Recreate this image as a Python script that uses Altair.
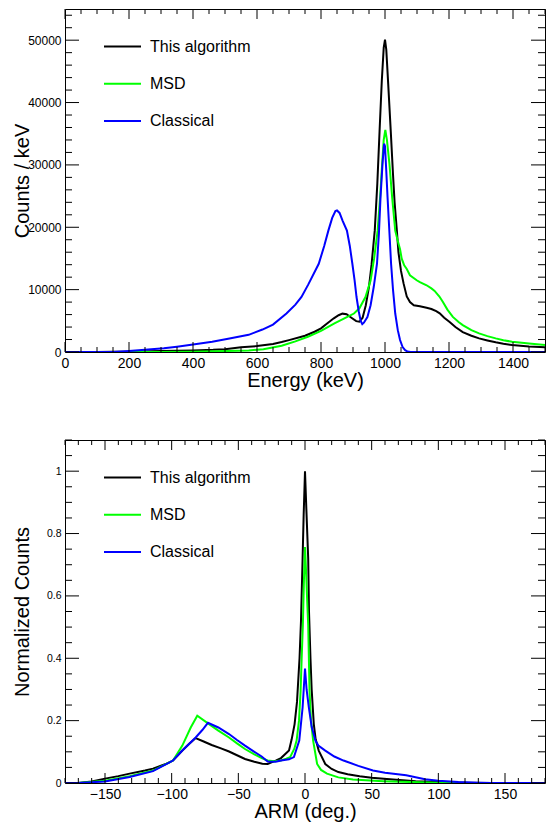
import altair as alt
import pandas as pd

# ---------------- Energy spectrum (top panel) ----------------
names = ["This algorithm", "MSD", "Classical"]
colors = ["#000000", "#00ff00", "#0000ff"]

e_alg_x = [0, 100, 150, 200, 300, 400, 463, 500, 550, 600, 650, 677, 700, 750, 780, 800, 820, 840, 855,
           867, 880, 895, 910, 920, 930, 940, 950, 958, 968, 976, 983, 990, 996, 1000, 1004, 1010, 1018,
           1025, 1030, 1037, 1042, 1050, 1058, 1068, 1078, 1090, 1109, 1130, 1145, 1160, 1171, 1185, 1202,
           1220, 1243, 1270, 1294, 1320, 1346, 1370, 1397, 1450, 1500]
e_alg_y = [0, 0, 30, 60, 150, 260, 350, 450, 750, 950, 1300, 1600, 1900, 2600, 3250, 3800, 4600, 5400, 5900,
           6150, 6050, 5500, 4950, 4850, 5500, 7500, 10500, 14000, 19500, 27000, 35400, 43500, 48800, 50100,
           48500, 43000, 35400, 28500, 24000, 19500, 16000, 13000, 11000, 8900, 8000, 7500, 7350, 7100, 6900,
           6550, 6200, 5500, 4800, 4000, 3200, 2600, 2180, 1850, 1550, 1320, 1120, 900, 750]

e_msd_x = [0, 300, 400, 500, 574, 620, 677, 720, 759, 800, 842, 870, 903, 920, 939, 955, 966, 977, 985, 991,
           996, 1001, 1006, 1014, 1022, 1032, 1040, 1047, 1052, 1060, 1068, 1078, 1099, 1109, 1130, 1145,
           1155, 1170, 1181, 1195, 1212, 1230, 1243, 1270, 1294, 1320, 1346, 1370, 1397, 1450, 1500]
e_msd_y = [0, 0, 40, 150, 250, 450, 1000, 1700, 2440, 3400, 4580, 5300, 6170, 7000, 8820, 11480, 15000,
           19460, 25000, 30100, 34000, 35600, 34000, 30100, 25000, 19460, 17800, 16500, 15000, 13900, 13300,
           12300, 11500, 11200, 10700, 10200, 9800, 8900, 8020, 6800, 5630, 4800, 4310, 3500, 2980, 2550,
           2180, 1900, 1640, 1350, 1120]

e_cla_x = [0, 150, 200, 250, 309, 350, 411, 460, 514, 574, 617, 650, 692, 720, 739, 760, 793, 810, 823, 835,
           845, 850, 858, 868, 881, 890, 898, 905, 911, 918, 924, 929, 934, 945, 955, 965, 975, 981, 986,
           992, 997, 1000, 1004, 1008, 1014, 1019, 1025, 1032, 1040, 1047, 1055, 1063, 1070, 1080, 1500]
e_cla_y = [0, 0, 150, 350, 590, 850, 1280, 1650, 2180, 2750, 3600, 4400, 6170, 7600, 8820, 10800, 14150,
           17000, 19460, 21500, 22600, 22700, 22300, 21000, 19460, 17000, 14150, 11500, 8820, 6500, 5000,
           4470, 4700, 5600, 7500, 10500, 14150, 19000, 24770, 30000, 33400, 33000, 29000, 24770, 19000,
           14150, 10000, 6170, 3500, 1910, 800, 300, 80, 0, 0]

# ---------------- ARM distribution (bottom panel) ----------------
a_alg_x = [-180, -170, -160, -150, -140, -131.5, -120, -114, -105, -99, -92, -87, -82, -76, -70, -63, -57,
           -51, -45, -38, -32, -28, -22, -18, -12, -10, -7.8, -6, -4.1, -3, -1.8, -1, 0, 1, 2.4, 3, 4.1, 5,
           6.6, 8, 10.3, 15.2, 20, 25, 32, 41, 50, 66, 83, 100, 120, 140, 180]
a_alg_y = [0, 0, 0.005, 0.014, 0.022, 0.030, 0.040, 0.046, 0.060, 0.072, 0.104, 0.125, 0.144, 0.133, 0.122,
           0.111, 0.101, 0.089, 0.077, 0.068, 0.0615, 0.061, 0.072, 0.080, 0.104, 0.14, 0.189, 0.26, 0.40,
           0.52, 0.72, 0.86, 1.0, 0.88, 0.72, 0.55, 0.40, 0.30, 0.189, 0.14, 0.104, 0.061, 0.045, 0.035,
           0.028, 0.022, 0.017, 0.011, 0.006, 0.003, 0.001, 0, 0]

a_msd_x = [-180, -170, -150, -131.5, -114, -99, -92, -85.7, -80.8, -72, -65, -57, -51, -45, -38, -32.5, -28,
           -23, -18, -14, -11.2, -8, -6.3, -4.5, -3.3, -2.5, -1.6, -0.8, 0, 0.8, 1.5, 2.4, 3.4, 4.5, 6.1,
           9.1, 12, 16.5, 25, 36, 58.6, 80, 100, 120, 180]
a_msd_y = [0, 0, 0.0075, 0.022, 0.040, 0.072, 0.12, 0.178, 0.2155, 0.189, 0.168, 0.146, 0.127, 0.109, 0.092,
           0.0796, 0.072, 0.070, 0.072, 0.078, 0.083, 0.11, 0.136, 0.20, 0.295, 0.40, 0.507, 0.65, 0.757,
           0.68, 0.60, 0.507, 0.295, 0.20, 0.136, 0.061, 0.042, 0.030, 0.018, 0.011, 0.006, 0.003, 0.001, 0, 0]

a_cla_x = [-180, -170, -150, -131.5, -114, -99, -92, -82, -77, -72.8, -65, -57, -51, -45, -38, -32.5, -28,
           -22, -18, -12, -8.3, -4.3, -1.8, 0, 1.2, 2.9, 5, 7.8, 10, 15.2, 22, 28.9, 40, 51, 60, 75.9, 90,
           100, 115, 130, 140, 180]
a_cla_y = [0, 0, 0.005, 0.019, 0.038, 0.072, 0.104, 0.146, 0.17, 0.193, 0.178, 0.157, 0.138, 0.12, 0.10,
           0.085, 0.069, 0.068, 0.072, 0.076, 0.083, 0.136, 0.242, 0.367, 0.30, 0.242, 0.18, 0.136, 0.12,
           0.104, 0.085, 0.072, 0.055, 0.040, 0.033, 0.0245, 0.012, 0.007, 0.003, 0.001, 0, 0]

# tick positions
top_x_major = list(range(0, 1401, 200))
top_x_minor = [v for v in range(0, 1501, 50) if v % 200 != 0]
top_y_major = list(range(0, 50001, 10000))
top_y_minor = [v for v in range(0, 55001, 2000) if v % 10000 != 0]
bot_x_major = list(range(-150, 151, 50))
bot_x_minor = [v for v in range(-180, 181, 10) if v % 50 != 0]
bot_y_major = [0, 0.2, 0.4, 0.6, 0.8, 1]
bot_y_minor = [round(i * 0.05, 2) for i in range(0, 23) if i % 4 != 0]

FONT = "Liberation Sans"
W, H = 480, 343


def long_df(xs, ys):
    rows = []
    for name, xv, yv in zip(names, xs, ys):
        for a, b in zip(xv, yv):
            rows.append({"x": a, "y": b, "series": name})
    return pd.DataFrame(rows)


def panel(df, xdom, ydom, xmaj, xmin, ymaj, ymin, xtitle, ytitle, ylabsize, yfmt, xfmt):
    xs = alt.Scale(domain=xdom, nice=False, zero=False)
    ys = alt.Scale(domain=ydom, nice=False, zero=False)
    xaxis = alt.Axis(values=xmaj, format=xfmt, labelFontSize=14, labelPadding=4, labelFlush=False,
                     title=xtitle, titleFontSize=20, titleY=34, titleBaseline="alphabetic")
    yaxis = alt.Axis(values=ymaj, format=yfmt, labelFontSize=ylabsize, labelPadding=4, labelFlush=False,
                     title=ytitle, titleFontSize=20, titleX=-37, titleBaseline="alphabetic")
    lines = alt.Chart(df).mark_line(strokeWidth=2, clip=True).encode(
        x=alt.X("x:Q", scale=xs, axis=xaxis, title=xtitle),
        y=alt.Y("y:Q", scale=ys, axis=yaxis, title=ytitle),
        color=alt.Color("series:N", sort=names,
                        scale=alt.Scale(domain=names, range=colors),
                        legend=alt.Legend(orient="none", legendX=38, legendY=18, title=None,
                                          symbolType="stroke", symbolSize=1369, symbolStrokeWidth=2,
                                          labelFontSize=16, labelFont=FONT, labelColor="black",
                                          labelOffset=8, rowPadding=9.2, padding=0, labelLimit=0)),
    )
    layers = [lines]
    for vals, L in ((xmaj, 10), (xmin, 5)):
        d = pd.DataFrame({"x": vals})
        layers.append(alt.Chart(d).mark_rule(color="black", strokeWidth=1).encode(
            x=alt.X("x:Q", scale=xs, title=xtitle), y=alt.value(H), y2=alt.value(H - L)))
        layers.append(alt.Chart(d).mark_rule(color="black", strokeWidth=1).encode(
            x=alt.X("x:Q", scale=xs, title=xtitle), y=alt.value(0), y2=alt.value(L)))
    for vals, L in ((ymaj, 14), (ymin, 7)):
        d = pd.DataFrame({"y": vals})
        layers.append(alt.Chart(d).mark_rule(color="black", strokeWidth=1).encode(
            y=alt.Y("y:Q", scale=ys, title=ytitle), x=alt.value(0), x2=alt.value(L)))
        layers.append(alt.Chart(d).mark_rule(color="black", strokeWidth=1).encode(
            y=alt.Y("y:Q", scale=ys, title=ytitle), x=alt.value(W), x2=alt.value(W - L)))
    return alt.layer(*layers).properties(width=W, height=H)


top = panel(long_df([e_alg_x, e_msd_x, e_cla_x], [e_alg_y, e_msd_y, e_cla_y]),
            [0, 1500], [0, 55000], top_x_major, top_x_minor, top_y_major, top_y_minor,
            "Energy (keV)", "Counts / keV", 12, "d", "d")
bottom = panel(long_df([a_alg_x, a_msd_x, a_cla_x], [a_alg_y, a_msd_y, a_cla_y]),
               [-180, 180], [0, 1.1], bot_x_major, bot_x_minor, bot_y_major, bot_y_minor,
               "ARM (deg.)", "Normalized Counts", 10.5, "~g", "d")

chart = alt.vconcat(top, bottom, spacing=48).resolve_scale(color="independent").resolve_legend(
    color="independent"
).properties(
    padding={"left": 3, "top": 0, "right": 0, "bottom": 0}, background="white"
).configure_axis(
    labelFont=FONT, titleFont=FONT, labelColor="black", titleColor="black",
    titleFontWeight="normal", grid=False, ticks=False, domain=False
).configure_view(stroke="black", strokeWidth=1)

chart.save("out.html", embed_options={"renderer": "svg", "actions": False})
